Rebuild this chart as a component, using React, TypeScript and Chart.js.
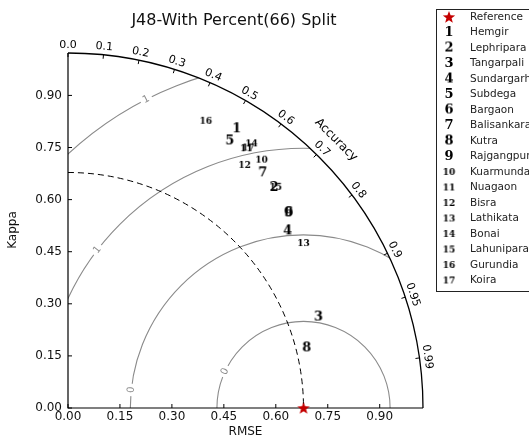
import React, { useEffect, useRef } from 'react';
import { Chart, registerables } from 'chart.js';

Chart.register(...registerables);

const TITLE = 'J48-With Percent(66) Split';
const X_TITLE = 'RMSE';
const Y_TITLE = 'Kappa';
const ARC_TITLE = 'Accuracy';
const REF_LABEL = 'Reference';

const STATIONS = [
  'Hemgir', 'Lephripara', 'Tangarpali', 'Sundargarh', 'Subdega', 'Bargaon',
  'Balisankara', 'Kutra', 'Rajgangpur', 'Kuarmunda', 'Nuagaon', 'Bisra',
  'Lathikata', 'Bonai', 'Lahunipara', 'Gurundia', 'Koira',
];
const STATION_X = [0.487, 0.595, 0.723, 0.634, 0.467, 0.637, 0.562, 0.689, 0.637, 0.559, 0.515, 0.51, 0.68, 0.53, 0.60, 0.398, 0.52];
const STATION_Y = [0.804, 0.635, 0.262, 0.51, 0.769, 0.562, 0.677, 0.173, 0.562, 0.715, 0.748, 0.70, 0.475, 0.762, 0.637, 0.827, 0.75];

const REF_X = 0.68;
const REF_Y = 0;
const AXIS_MAX = 1.025;
const AXIS_TICKS = [0, 0.15, 0.3, 0.45, 0.6, 0.75, 0.9];
const ACC_VALUES = [0, 0.1, 0.2, 0.3, 0.4, 0.5, 0.6, 0.7, 0.8, 0.9, 0.95, 0.99];
const ACC_LABELS = ['0.0', '0.1', '0.2', '0.3', '0.4', '0.5', '0.6', '0.7', '0.8', '0.9', '0.95', '0.99'];
const CONTOUR_LEVELS = [0.25, 0.5, 0.75, 1.0];
const CONTOUR_LABELS = ['0', '0', '1', '1'];
const CONTOUR_LABEL_ANGLES = [155, 174, 142.5, 117];

const SANS = '"DejaVu Sans", sans-serif';
const SERIF = '"DejaVu Serif", serif';
const GRAY = '#8a8a8a';
const STAR_COLOR = '#c40000';

function makeTextMarker(text: string): HTMLCanvasElement {
  const size = text.length > 1 ? 9 : 13;
  const font = `bold ${size}px ${SERIF}`;
  const c = document.createElement('canvas');
  let ctx = c.getContext('2d')!;
  ctx.font = font;
  const w = Math.ceil(ctx.measureText(text).width) + 2;
  const h = Math.ceil(size * 1.3);
  c.width = w;
  c.height = h;
  ctx = c.getContext('2d')!;
  ctx.font = font;
  ctx.fillStyle = '#000';
  ctx.textAlign = 'center';
  ctx.textBaseline = 'middle';
  ctx.fillText(text, w / 2, h / 2 + 0.5);
  return c;
}

function makeStar(): HTMLCanvasElement {
  const c = document.createElement('canvas');
  c.width = 14;
  c.height = 14;
  const ctx = c.getContext('2d')!;
  const cx = 7, cy = 7.5, ro = 6.5, ri = 2.7;
  ctx.beginPath();
  for (let i = 0; i < 10; i++) {
    const r = i % 2 === 0 ? ro : ri;
    const a = -Math.PI / 2 + (i * Math.PI) / 5;
    const px = cx + r * Math.cos(a);
    const py = cy + r * Math.sin(a);
    if (i === 0) ctx.moveTo(px, py); else ctx.lineTo(px, py);
  }
  ctx.closePath();
  ctx.fillStyle = STAR_COLOR;
  ctx.fill();
  return c;
}

export default function App() {
  const ref = useRef<HTMLCanvasElement | null>(null);

  useEffect(() => {
    if (!ref.current) return;
    const markers = STATIONS.map((_, i) => makeTextMarker(String(i + 1)));
    const star = makeStar();

    const taylorPlugin = {
      id: 'taylor',
      beforeDatasetsDraw(chart: any) {
        const { ctx } = chart;
        const xs = chart.scales.x;
        const ys = chart.scales.y;
        const ox = xs.getPixelForValue(0);
        const oy = ys.getPixelForValue(0);
        const k = xs.getPixelForValue(1) - ox;
        const Rpx = AXIS_MAX * k;
        const cx = xs.getPixelForValue(REF_X);

        ctx.save();
        ctx.save();
        ctx.beginPath();
        ctx.moveTo(ox, oy);
        ctx.arc(ox, oy, Rpx, -Math.PI / 2, 0);
        ctx.closePath();
        ctx.clip();
        ctx.strokeStyle = GRAY;
        ctx.lineWidth = 1.1;
        CONTOUR_LEVELS.forEach((lv) => {
          ctx.beginPath();
          ctx.arc(cx, oy, lv * k, Math.PI, 2 * Math.PI);
          ctx.stroke();
        });
        ctx.restore();

        ctx.font = `10px ${SANS}`;
        ctx.textAlign = 'center';
        ctx.textBaseline = 'middle';
        CONTOUR_LEVELS.forEach((lv, i) => {
          const th = (CONTOUR_LABEL_ANGLES[i] * Math.PI) / 180;
          const px = cx + lv * k * Math.cos(th);
          const py = oy - lv * k * Math.sin(th);
          const alpha = th - Math.PI / 2;
          ctx.save();
          ctx.translate(px, py);
          ctx.rotate(-alpha);
          const tw = ctx.measureText(CONTOUR_LABELS[i]).width;
          ctx.fillStyle = '#fff';
          ctx.fillRect(-tw / 2 - 3, -4, tw + 6, 8);
          ctx.fillStyle = GRAY;
          ctx.fillText(CONTOUR_LABELS[i], 0, 0);
          ctx.restore();
        });

        ctx.strokeStyle = '#000';
        ctx.lineWidth = 1;
        ctx.setLineDash([6, 4]);
        ctx.beginPath();
        ctx.arc(ox, oy, REF_X * k, -Math.PI / 2, 0);
        ctx.stroke();
        ctx.setLineDash([]);

        ctx.lineWidth = 1.2;
        ctx.beginPath();
        ctx.moveTo(ox, oy - Rpx);
        ctx.lineTo(ox, oy);
        ctx.lineTo(ox + Rpx, oy);
        ctx.stroke();
        ctx.lineWidth = 1;
        AXIS_TICKS.forEach((v) => {
          const px = xs.getPixelForValue(v);
          ctx.beginPath();
          ctx.moveTo(px, oy);
          ctx.lineTo(px, oy - 4);
          ctx.stroke();
          const py = ys.getPixelForValue(v);
          ctx.beginPath();
          ctx.moveTo(ox, py);
          ctx.lineTo(ox + 4, py);
          ctx.stroke();
        });

        ctx.lineWidth = 1.3;
        ctx.beginPath();
        ctx.arc(ox, oy, Rpx, -Math.PI / 2, 0);
        ctx.stroke();

        ctx.lineWidth = 1;
        ctx.font = `11px ${SANS}`;
        ctx.fillStyle = '#000';
        ACC_VALUES.forEach((c, i) => {
          const phi = Math.acos(c);
          const cs = Math.cos(phi), sn = Math.sin(phi);
          ctx.beginPath();
          ctx.moveTo(ox + Rpx * cs, oy - Rpx * sn);
          ctx.lineTo(ox + (Rpx - 4) * cs, oy - (Rpx - 4) * sn);
          ctx.stroke();
          const lr = Rpx + 8;
          ctx.save();
          ctx.translate(ox + lr * cs, oy - lr * sn);
          ctx.rotate(Math.PI / 2 - phi);
          ctx.fillText(ACC_LABELS[i], 0, 0);
          ctx.restore();
        });
        ctx.font = `12px ${SANS}`;
        const ar = Rpx + 24;
        ctx.save();
        ctx.translate(ox + ar * Math.cos(Math.PI / 4), oy - ar * Math.sin(Math.PI / 4));
        ctx.rotate(Math.PI / 4);
        ctx.fillText(ARC_TITLE, 0, 0);
        ctx.restore();
        ctx.restore();
      },
      afterDraw(chart: any) {
        const { ctx } = chart;
        ctx.save();
        ctx.font = `16px ${SANS}`;
        ctx.fillStyle = '#111';
        ctx.textAlign = 'center';
        ctx.textBaseline = 'middle';
        ctx.fillText(TITLE, 234, 21);
        ctx.strokeStyle = '#222';
        ctx.lineWidth = 1;
        ctx.strokeRect(436.5, 9.5, 140, 282);
        const rowH = 15.5;
        const y0 = 17;
        ctx.drawImage(star, 449 - star.width / 2, y0 - star.height / 2);
        ctx.font = `10.5px ${SANS}`;
        ctx.textAlign = 'left';
        ctx.fillStyle = '#222';
        ctx.fillText(REF_LABEL, 470, y0);
        STATIONS.forEach((name, i) => {
          const y = y0 + (i + 1) * rowH;
          const m = markers[i];
          ctx.drawImage(m, 449 - m.width / 2, y - m.height / 2);
          ctx.fillText(name, 470, y);
        });
        ctx.restore();
      },
    };

    const datasets: any[] = [
      {
        label: REF_LABEL,
        data: [{ x: REF_X, y: REF_Y }],
        pointStyle: star,
        pointRadius: 5,
        clip: false,
      },
      ...STATIONS.map((name, i) => ({
        label: name,
        data: [{ x: STATION_X[i], y: STATION_Y[i] }],
        pointStyle: markers[i],
        pointRadius: 5,
        clip: false,
      })),
    ];

    const tickFont = { family: SANS, size: 12 };
    const chart = new Chart(ref.current, {
      type: 'scatter',
      data: { datasets },
      plugins: [taylorPlugin],
      options: {
        animation: false,
        responsive: false,
        devicePixelRatio: 1,
        events: [],
        layout: { padding: { top: 52, right: 106, left: 0, bottom: 0 } },
        plugins: { legend: { display: false }, tooltip: { enabled: false }, title: { display: false } },
        scales: {
          x: {
            type: 'linear',
            min: 0,
            max: AXIS_MAX,
            afterBuildTicks: (s: any) => { s.ticks = AXIS_TICKS.map((v) => ({ value: v })); },
            afterFit: (s: any) => { s.height = 32; },
            ticks: { callback: (v: any) => Number(v).toFixed(2), font: tickFont, color: '#111', padding: 2, maxRotation: 0, autoSkip: false },
            grid: { display: false, drawTicks: false },
            border: { display: false },
            title: { display: true, text: X_TITLE, font: tickFont, color: '#111', padding: { top: 0, bottom: 1 } },
          },
          y: {
            type: 'linear',
            min: 0,
            max: AXIS_MAX,
            afterBuildTicks: (s: any) => { s.ticks = AXIS_TICKS.map((v) => ({ value: v })); },
            afterFit: (s: any) => { s.width = 68; },
            ticks: { callback: (v: any) => Number(v).toFixed(2), font: tickFont, color: '#111', padding: 6, autoSkip: false },
            grid: { display: false, drawTicks: false },
            border: { display: false },
            title: { display: true, text: Y_TITLE, font: tickFont, color: '#111', padding: { top: 6, bottom: 0 } },
          },
        },
      } as any,
    });
    return () => chart.destroy();
  }, []);

  return (
    <div style={{ position: 'absolute', left: 0, top: 0, width: 529, height: 440, background: '#fff' }}>
      <canvas ref={ref} width={529} height={440} style={{ display: 'block' }} />
    </div>
  );
}
